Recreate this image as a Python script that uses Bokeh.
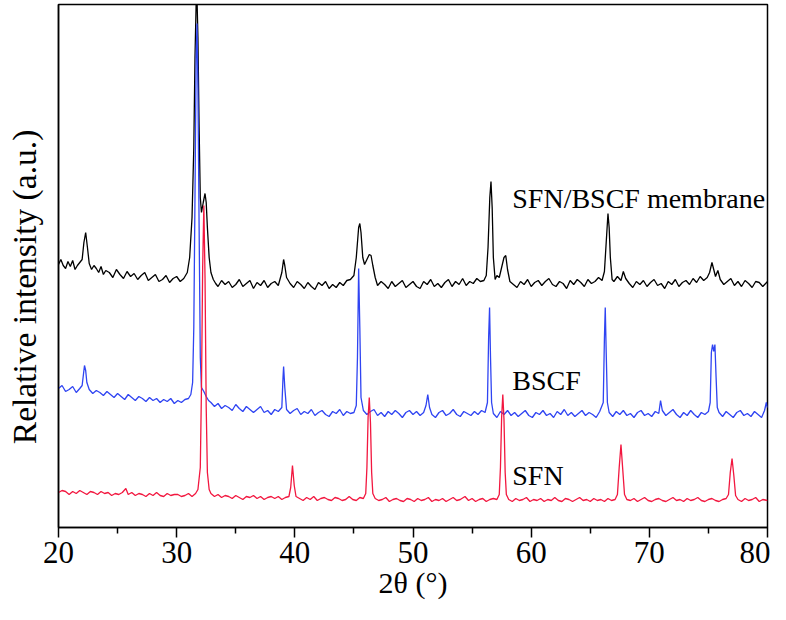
import math
from bokeh.plotting import figure
from bokeh.models import Range1d, FixedTicker, Label
from bokeh.embed import file_html
from bokeh.resources import INLINE

# ---------------- data (2θ in degrees, relative intensity in arbitrary units) ----------------
sfn_x = [20.0, 20.3, 20.6, 20.9, 21.2, 21.5, 21.8, 22.1, 22.4, 22.7, 23.0, 23.3, 23.6, 23.9, 24.2, 24.5, 24.8,
         25.1, 25.4, 25.7, 25.9, 26.2, 26.5, 26.8, 27.1, 27.4, 27.7, 28.0, 28.3, 28.6, 28.9, 29.2, 29.5, 29.8,
         30.1, 30.4, 30.7, 31.0, 31.3, 31.6, 31.8, 32.0, 32.1, 32.2, 32.3, 32.4, 32.5, 32.6, 32.75, 32.9, 33.2,
         33.5, 33.8, 34.1, 34.4, 34.7, 35.0, 35.3, 35.6, 35.9, 36.2, 36.5, 36.8, 37.1, 37.4, 37.7, 38.0, 38.3,
         38.6, 38.9, 39.2, 39.5, 39.65, 39.8, 39.95, 40.1, 40.4, 40.7, 41.0, 41.3, 41.6, 41.9, 42.2, 42.5, 42.8,
         43.1, 43.4, 43.7, 44.0, 44.3, 44.6, 44.9, 45.2, 45.5, 45.8, 46.0, 46.1, 46.2, 46.3, 46.4, 46.5, 46.6,
         46.8, 47.1, 47.4, 47.7, 48.0, 48.3, 48.6, 48.9, 49.2, 49.5, 49.8, 50.1, 50.4, 50.7, 51.0, 51.3, 51.6,
         51.9, 52.2, 52.5, 52.8, 53.1, 53.4, 53.7, 54.0, 54.4, 54.7, 55.0, 55.3, 55.6, 55.9, 56.2, 56.5, 56.8,
         57.1, 57.3, 57.4, 57.5, 57.6, 57.7, 57.8, 57.9, 58.1, 58.4, 58.7, 59.0, 59.3, 59.6, 59.9, 60.2, 60.5,
         60.8, 61.1, 61.4, 61.7, 62.0, 62.3, 62.6, 62.9, 63.2, 63.5, 63.8, 64.1, 64.4, 64.7, 65.0, 65.3, 65.6,
         65.9, 66.2, 66.5, 66.8, 67.1, 67.3, 67.45, 67.6, 67.75, 67.9, 68.1, 68.4, 68.7, 69.0, 69.3, 69.6, 69.9,
         70.2, 70.5, 70.8, 71.1, 71.4, 71.7, 72.0, 72.3, 72.6, 72.9, 73.2, 73.5, 73.8, 74.1, 74.4, 74.7, 75.0,
         75.3, 75.6, 75.9, 76.2, 76.5, 76.7, 76.85, 77.0, 77.15, 77.3, 77.5, 77.8, 78.1, 78.4, 78.7, 79.0, 79.3,
         79.6, 80.0]
sfn_y = [35, 37, 36, 33, 36, 34, 37, 35, 33, 36, 35, 33, 36, 34, 35, 32, 34,
         33, 35, 39, 33, 35, 32, 34, 33, 31, 34, 32, 35, 32, 31, 34, 32, 33,
         33, 31, 32, 34, 31, 34, 38, 60, 140, 260, 322, 250, 120, 55, 38, 34, 31,
         33, 30, 32, 31, 29, 32, 30, 28, 31, 30, 32, 29, 31, 28, 30, 31, 29,
         31, 28, 30, 31, 40, 62, 42, 31, 29, 27, 30, 28, 31, 27, 29, 30, 28,
         27, 30, 29, 27, 28, 31, 28, 27, 30, 29, 34, 60, 110, 130, 105, 55, 34,
         29, 27, 28, 30, 26, 28, 29, 27, 26, 29, 28, 26, 29, 27, 28, 30, 26,
         28, 27, 29, 26, 28, 30, 27, 28, 31, 27, 29, 26, 28, 29, 26, 28, 29,
         28, 33, 60, 110, 133, 108, 55, 33, 28, 26, 29, 27, 28, 30, 26, 28, 27,
         29, 26, 28, 27, 30, 27, 26, 29, 28, 26, 28, 30, 27, 28, 26, 29, 27,
         28, 26, 29, 27, 28, 33, 60, 83, 58, 33, 28, 27, 29, 26, 28, 30, 27,
         26, 28, 29, 27, 26, 28, 30, 27, 28, 26, 29, 27, 28, 30, 27, 26, 28,
         29, 27, 26, 28, 29, 33, 55, 69, 52, 32, 28, 26, 29, 27, 28, 30, 26,
         28, 27]

bscf_x = [20.0, 20.3, 20.6, 20.9, 21.2, 21.5, 21.8, 22.0, 22.1, 22.2, 22.3, 22.4, 22.6, 22.9, 23.2, 23.5, 23.8,
          24.1, 24.4, 24.7, 25.0, 25.3, 25.6, 25.9, 26.2, 26.5, 26.8, 27.1, 27.4, 27.7, 28.0, 28.3, 28.6, 28.9,
          29.2, 29.5, 29.8, 30.1, 30.4, 30.7, 31.0, 31.2, 31.35, 31.45, 31.55, 31.65, 31.72, 31.8, 31.9, 32.0,
          32.1, 32.3, 32.5, 32.7, 32.9, 33.2, 33.5, 33.8, 34.1, 34.4, 34.7, 35.0, 35.3, 35.6, 35.9, 36.2, 36.5,
          36.8, 37.1, 37.4, 37.7, 38.0, 38.3, 38.6, 38.9, 39.0, 39.05, 39.15, 39.3, 39.6, 39.9, 40.2, 40.5, 40.8,
          41.1, 41.4, 41.7, 42.0, 42.3, 42.6, 42.9, 43.2, 43.5, 43.8, 44.1, 44.4, 44.7, 45.0, 45.2, 45.3, 45.4,
          45.5, 45.6, 45.8, 46.1, 46.4, 46.7, 47.0, 47.3, 47.6, 47.9, 48.2, 48.5, 48.8, 49.1, 49.4, 49.7, 50.0,
          50.3, 50.6, 50.9, 51.1, 51.25, 51.4, 51.6, 51.9, 52.2, 52.5, 52.8, 53.1, 53.4, 53.7, 54.0, 54.3, 54.6,
          54.9, 55.2, 55.5, 55.8, 56.1, 56.3, 56.4, 56.48, 56.56, 56.65, 56.8, 57.1, 57.4, 57.7, 58.0, 58.3,
          58.6, 58.9, 59.2, 59.5, 59.8, 60.1, 60.4, 60.7, 61.0, 61.3, 61.6, 61.9, 62.2, 62.5, 62.8, 63.1, 63.4,
          63.7, 64.0, 64.3, 64.6, 64.9, 65.2, 65.5, 65.8, 66.1, 66.2, 66.27, 66.35, 66.45, 66.6, 66.9, 67.2,
          67.5, 67.8, 68.1, 68.4, 68.7, 69.0, 69.3, 69.6, 69.9, 70.2, 70.5, 70.8, 70.95, 71.1, 71.4, 71.7, 72.0,
          72.3, 72.6, 72.9, 73.2, 73.5, 73.8, 74.1, 74.4, 74.7, 75.0, 75.15, 75.25, 75.35, 75.45, 75.55, 75.65,
          75.75, 75.9, 76.2, 76.5, 76.8, 77.1, 77.4, 77.7, 78.0, 78.3, 78.6, 78.9, 79.2, 79.5, 79.75, 79.9, 80.0]
bscf_y = [139, 142, 136, 138, 141, 135, 139, 142, 152, 162, 157, 145, 138, 134, 137, 135, 132,
          136, 133, 130, 134, 131, 128, 133, 130, 127, 131, 129, 126, 130, 127, 129, 125, 128,
          126, 129, 124, 127, 125, 128, 129, 133, 145, 200, 330, 470, 504, 440, 300, 170,
          140, 136, 131, 127, 125, 121, 124, 119, 122, 120, 117, 123, 119, 116, 121, 118, 115,
          118, 121, 115, 117, 113, 118, 116, 120, 150, 161, 140, 118, 114, 117, 119, 113, 116,
          114, 118, 112, 115, 117, 113, 111, 116, 114, 118, 112, 116, 114, 115, 122, 170, 259,
          200, 130, 117, 113, 116, 118, 112, 115, 111, 116, 113, 117, 114, 110, 115, 117, 113,
          116, 112, 115, 122, 133, 120, 113, 110, 115, 117, 112, 114, 118, 113, 111, 116, 114,
          112, 116, 113, 117, 115, 125, 190, 220, 170, 125, 114, 110, 116, 113, 117, 112,
          115, 111, 114, 117, 112, 110, 115, 113, 117, 112, 114, 110, 116, 113, 118, 112, 115,
          111, 114, 117, 112, 115, 113, 110, 116, 125, 190, 220, 175, 125, 115, 111, 116,
          113, 117, 112, 114, 110, 115, 117, 112, 114, 111, 116, 114, 127, 117, 112, 115, 118,
          113, 110, 115, 112, 117, 113, 110, 115, 113, 116, 125, 175, 183, 176, 183, 150,
          120, 115, 111, 116, 113, 110, 115, 117, 112, 114, 111, 116, 113, 110, 117, 125, 120]

mem_x = [20.0, 20.2, 20.4, 20.6, 20.8, 21.0, 21.2, 21.4, 21.6, 21.8, 22.0, 22.15, 22.3, 22.45, 22.6, 22.8, 23.0,
         23.2, 23.4, 23.6, 23.8, 24.0, 24.3, 24.6, 24.9, 25.2, 25.5, 25.8, 26.1, 26.4, 26.7, 27.0, 27.3, 27.6,
         27.9, 28.2, 28.5, 28.8, 29.1, 29.4, 29.7, 30.0, 30.3, 30.6, 30.9, 31.1, 31.3, 31.45, 31.55, 31.65,
         31.72, 31.8, 31.9, 32.0, 32.1, 32.25, 32.4, 32.5, 32.6, 32.75, 32.9, 33.1, 33.3, 33.5, 33.8, 34.1,
         34.4, 34.7, 35.0, 35.3, 35.6, 35.9, 36.2, 36.5, 36.8, 37.1, 37.4, 37.7, 38.0, 38.3, 38.6, 38.9, 39.05,
         39.15, 39.3, 39.6, 39.9, 40.2, 40.5, 40.8, 41.1, 41.4, 41.7, 42.0, 42.3, 42.6, 42.9, 43.2, 43.5, 43.8,
         44.1, 44.4, 44.7, 45.0, 45.2, 45.4, 45.5, 45.6, 45.75, 45.9, 46.1, 46.3, 46.45, 46.6, 46.8, 47.0, 47.3,
         47.6, 47.9, 48.2, 48.5, 48.8, 49.1, 49.4, 49.7, 50.0, 50.3, 50.6, 50.9, 51.2, 51.5, 51.8, 52.1, 52.4,
         52.7, 53.0, 53.3, 53.6, 53.9, 54.2, 54.5, 54.8, 55.1, 55.4, 55.7, 56.0, 56.2, 56.35, 56.5, 56.6, 56.7,
         56.8, 56.95, 57.1, 57.3, 57.5, 57.7, 57.85, 58.0, 58.2, 58.5, 58.8, 59.1, 59.4, 59.7, 60.0, 60.3, 60.6,
         60.9, 61.2, 61.5, 61.8, 62.1, 62.4, 62.7, 63.0, 63.3, 63.6, 63.9, 64.2, 64.5, 64.8, 65.1, 65.4, 65.7,
         66.0, 66.2, 66.35, 66.5, 66.6, 66.7, 66.85, 67.0, 67.3, 67.6, 67.8, 68.0, 68.3, 68.6, 68.9, 69.2, 69.5,
         69.8, 70.1, 70.4, 70.7, 71.0, 71.3, 71.6, 71.9, 72.2, 72.5, 72.8, 73.1, 73.4, 73.7, 74.0, 74.3, 74.6,
         74.9, 75.1, 75.3, 75.45, 75.6, 75.8, 76.0, 76.3, 76.6, 76.9, 77.2, 77.5, 77.8, 78.1, 78.4, 78.7, 79.0,
         79.3, 79.6, 80.0]
mem_y = [263, 268, 262, 259, 266, 261, 267, 258, 262, 265, 268, 285, 295, 280, 264, 258, 262,
         259, 255, 261, 253, 257, 255, 250, 258, 253, 249, 256, 251, 254, 248, 252, 255, 247,
         250, 253, 246, 248, 252, 245, 249, 251, 246, 249, 255, 270, 310, 380, 470, 525,
         530, 490, 400, 330, 315, 325, 334, 325, 300, 270, 255, 248, 244, 241, 247, 243,
         246, 240, 243, 248, 241, 244, 247, 239, 245, 242, 247, 240, 244, 246, 242, 255, 268,
         262, 250, 244, 240, 246, 243, 239, 245, 241, 238, 245, 242, 246, 239, 243, 240, 245,
         242, 247, 248, 252, 270, 300, 304, 295, 270, 263, 268, 273, 272, 262, 250, 242, 246,
         243, 239, 246, 241, 244, 247, 240, 243, 246, 241, 239, 246, 243, 248, 241, 244, 240,
         245, 248, 241, 246, 243, 249, 242, 246, 244, 249, 246, 247, 252, 280, 330, 346, 320,
         270, 248, 252, 250, 260, 270, 272, 258, 246, 243, 240, 246, 243, 248, 241, 245, 247,
         242, 246, 249, 243, 241, 246, 244, 239, 247, 243, 248, 245, 241, 248, 244, 246, 250,
         247, 256, 285, 314, 300, 270, 248, 246, 251, 247, 256, 249, 244, 240, 246, 243, 247,
         241, 245, 248, 242, 244, 239, 246, 243, 248, 241, 245, 247, 243, 249, 245, 251, 247,
         250, 255, 265, 258, 251, 257, 248, 243, 246, 249, 242, 246, 241, 247, 244, 240, 246,
         245, 241, 246]

x_ticks = [20, 30, 40, 50, 60, 70, 80]
x_minor_ticks = [25, 35, 45, 55, 65, 75]

series_names = ["SFN/BSCF membrane", "BSCF", "SFN"]
series_colors = ["#000000", "#2f44f2", "#f2173f"]
label_x = [58.4, 58.4, 58.4]
label_y = [329, 147, 52]

x_title = "2θ (°)"
y_title = "Relative intensity (a.u.)"

# ---------------- figure ----------------
FONT = "Liberation Serif"

p = figure(width=770, height=604, output_backend="svg", toolbar_location=None,
           x_range=Range1d(20, 80), y_range=Range1d(0, 523),
           min_border_left=58, min_border_right=3, min_border_top=4, min_border_bottom=77)
p.background_fill_color = "white"
p.border_fill_color = "white"
p.grid.visible = False
p.outline_line_color = "black"
p.outline_line_width = 1.5

# curves: membrane first, then BSCF, then SFN on top
p.line(mem_x, mem_y, line_color=series_colors[0], line_width=1.3)
p.line(bscf_x, bscf_y, line_color=series_colors[1], line_width=1.3)
p.line(sfn_x, sfn_y, line_color=series_colors[2], line_width=1.3)

for name, lx, ly in zip(series_names, label_x, label_y):
    p.add_layout(Label(x=lx, y=ly, text=name, text_font=FONT, text_font_size="28px",
                       text_color="black", text_baseline="alphabetic", text_align="left"))

# x axis
xa = p.xaxis[0]
xa.ticker = FixedTicker(ticks=x_ticks, minor_ticks=x_minor_ticks)
xa.axis_line_width = 1.5
xa.axis_line_color = "black"
xa.major_tick_line_width = 1.5
xa.minor_tick_line_width = 1.5
xa.major_tick_in = 0
xa.major_tick_out = 10
xa.minor_tick_in = 0
xa.minor_tick_out = 6
xa.major_label_standoff = 4
xa.major_label_text_font = FONT
xa.major_label_text_font_size = "31px"
xa.major_label_text_color = "black"
xa.axis_label = x_title
xa.axis_label_text_font = FONT
xa.axis_label_text_font_size = "30px"
xa.axis_label_text_font_style = "normal"
xa.axis_label_text_color = "black"
xa.axis_label_standoff = 0

# y axis: plain line, no ticks, no numbers
ya = p.yaxis[0]
ya.ticker = FixedTicker(ticks=[])
ya.major_tick_out = 0
ya.major_tick_in = 0
ya.minor_tick_out = 0
ya.minor_tick_in = 0
ya.major_label_standoff = 0
ya.axis_line_width = 1.5
ya.axis_line_color = "black"
# trailing no-break spaces shift the visible title down to where the reference has it
ya.axis_label = y_title + "\u00a0" * 5
ya.axis_label_text_font = FONT
ya.axis_label_text_font_size = "33.5px"
ya.axis_label_text_font_style = "normal"
ya.axis_label_text_color = "black"
ya.axis_label_standoff = 16

open("out.html", "w").write(file_html(p, INLINE))
